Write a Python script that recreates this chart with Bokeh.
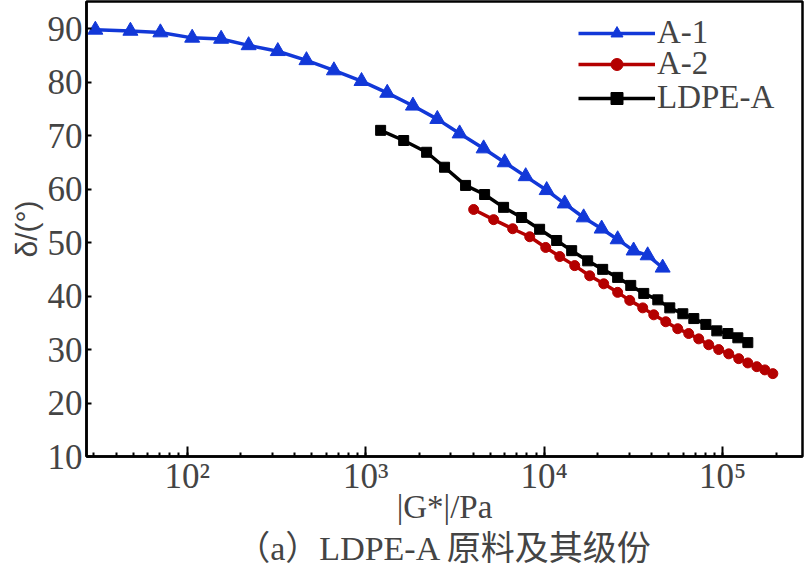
from bokeh.plotting import figure
from bokeh.models import Title, Legend, LegendItem, FixedTicker, Range1d
from bokeh.embed import file_html
from bokeh.resources import INLINE

# A-1 (blue triangles)
a1_g = [30.6, 48.1, 70.8, 106.7, 155, 221, 322, 466, 664, 948, 1321, 1840, 2520,
        3360, 4580, 6010, 7880, 10330, 13030, 16640, 20990, 25800, 31700, 38000, 46100]
a1_d = [89.8, 89.6, 89.3, 88.3, 88.1, 86.9, 85.8, 84.1, 82.2, 80.2, 78.0, 75.6, 73.1,
        70.4, 67.6, 65.0, 62.4, 59.8, 57.3, 54.7, 52.6, 50.6, 48.5, 47.6, 45.3]

# A-2 (red circles)
a2_g = [4027, 5210, 6660, 8300, 10200, 12230, 14830, 17990, 21560, 25800, 30150, 35650,
        41100, 48000, 56000, 64500, 73400, 83500, 95000, 108100, 123000, 138300, 155300,
        172200, 191000]
a2_d = [56.2, 54.3, 52.6, 51.1, 49.1, 47.4, 45.7, 43.8, 42.3, 40.7, 39.2, 37.8,
        36.5, 35.2, 33.9, 33.0, 32.0, 30.9, 30.0, 29.2, 28.3, 27.5, 26.8,
        26.2, 25.5]

# LDPE-A (black squares)
ld_g = [1213, 1633, 2195, 2767, 3628, 4639, 5925, 7475, 9430, 11750, 14260, 17530, 21270,
        25800, 30550, 36130, 43300, 50550, 59800, 68900, 80500, 92700, 106900, 121600, 138300]
ld_d = [71.0, 69.1, 66.9, 64.1, 60.7, 59.0, 56.6, 54.7, 52.5, 50.4, 48.5, 46.6, 45.0,
        43.5, 42.0, 40.5, 39.3, 37.8, 36.7, 35.8, 34.7, 33.5, 33.0, 32.2, 31.3]

series_names = ["A-1", "A-2", "LDPE-A"]
y_ticks = [10, 20, 30, 40, 50, 60, 70, 80, 90]
x_tick_labels = {100: "10²", 1000: "10³", 10000: "10⁴", 100000: "10⁵"}

BLUE = "#1238d8"
RED = "#b40000"
BLACK = "#000000"
SERIF = "Liberation Serif"

p = figure(width=808, height=574, x_axis_type="log",
           x_range=Range1d(27.3, 2.8e5), y_range=Range1d(10, 95.1),
           output_backend="svg", toolbar_location=None,
           min_border_left=86, min_border_right=6, min_border_top=1, min_border_bottom=118)

p.grid.visible = False
p.outline_line_color = "black"
p.outline_line_width = 2.5
p.background_fill_color = "white"
p.border_fill_color = "white"

# axes
xa = p.xaxis[0]
xa.axis_line_width = 2.5
xa.major_tick_in = 10
xa.major_tick_out = 0
xa.minor_tick_in = 4
xa.minor_tick_out = 0
xa.major_tick_line_width = 2
xa.minor_tick_line_width = 2
xa.major_label_overrides = x_tick_labels
xa.major_label_text_font = SERIF
xa.major_label_text_font_size = "35px"
xa.major_label_standoff = 0
xa.axis_label = "|G*|/Pa"
xa.axis_label_text_font = SERIF
xa.axis_label_text_font_style = "normal"
xa.axis_label_text_font_size = "33px"
xa.axis_label_standoff = -10

ya = p.yaxis[0]
ya.ticker = FixedTicker(ticks=y_ticks)
ya.axis_line_width = 2.5
ya.major_tick_in = 5
ya.major_tick_out = 0
ya.minor_tick_in = 0
ya.minor_tick_out = 0
ya.major_tick_line_width = 2
ya.major_label_text_font = SERIF
ya.major_label_text_font_size = "35px"
ya.major_label_standoff = 4
ya.axis_label = "δ/(°)"
ya.axis_label_text_font = "Liberation Sans"
ya.axis_label_text_font_style = "normal"
ya.axis_label_text_font_size = "30px"
ya.axis_label_standoff = 2

# series
l1 = p.line(a1_g, a1_d, line_color=BLUE, line_width=3.5)
s1 = p.scatter(a1_g, a1_d, marker="triangle", size=15, fill_color=BLUE, line_color=BLUE)
l2 = p.line(a2_g, a2_d, line_color=RED, line_width=3.5)
s2 = p.scatter(a2_g, a2_d, marker="circle", size=10, fill_color=RED, line_color=RED)
l3 = p.line(ld_g, ld_d, line_color=BLACK, line_width=3.5)
s3 = p.scatter(ld_g, ld_d, marker="square", size=10, fill_color=BLACK, line_color=BLACK)

# one legend per entry so the row pitch can match the reference
for name, rends, loc in zip(series_names, [[l1, s1], [l2, s2], [l3, s3]],
                            [(492, 405), (492, 374), (492, 340)]):
    lg = Legend(items=[LegendItem(label=name, renderers=rends)], location=loc)
    lg.border_line_color = None
    lg.background_fill_alpha = 0
    lg.label_text_font = SERIF
    lg.label_text_font_size = "33px"
    lg.glyph_width = 77
    lg.glyph_height = 30
    lg.label_height = 30
    lg.label_standoff = 2
    lg.padding = 0
    lg.margin = 0
    p.add_layout(lg, "center")

caption = Title(text="（a）LDPE-A 原料及其级份", align="center",
                text_font="'Liberation Serif', 'Noto Sans CJK SC'",
                text_font_size="34px", text_font_style="normal",
                standoff=0, offset=0)
p.add_layout(caption, "below")

open("out.html", "w").write(file_html(p, INLINE))
